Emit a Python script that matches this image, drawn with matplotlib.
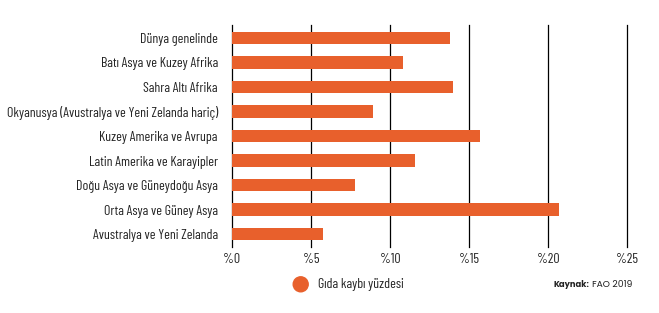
import numpy as np
from matplotlib import pyplot as plt
from matplotlib.patches import Ellipse

# =============================================================================
# data
# =============================================================================
regions = ["Dünya genelinde",
           "Batı Asya ve Kuzey Afrika",
           "Sahra Altı Afrika",
           "Okyanusya (Avustralya ve Yeni Zelanda hariç)",
           "Kuzey Amerika ve Avrupa",
           "Latin Amerika ve Karayipler",
           "Doğu Asya ve Güneydoğu Asya",
           "Orta Asya ve Güney Asya",
           "Avustralya ve Yeni Zelanda"]
loss_pct = [13.8, 10.8, 14.0, 8.9, 15.7, 11.6, 7.8, 20.7, 5.8]
xticks = [0, 5, 10, 15, 20, 25]
xtick_labels = ["%" + str(t) for t in xticks]
legend_label = "Gıda kaybı yüzdesi"
source_head = "Kaynak:"
source_text = "FAO 2019"

orange = "#E8602C"
font = ["Barlow Condensed", "DejaVu Sans"]
src_font = ["Poppins", "DejaVu Sans"]

# =============================================================================
# plot
# =============================================================================
W, H = 659, 313
fig = plt.figure(figsize=(W / 100, H / 100), dpi=100)
ax = fig.add_axes([231.7 / W, 1 - 247 / H, (627.3 - 231.7) / W, (247 - 25) / H])

y = np.arange(len(regions))
ax.barh(y, loss_pct, height=0.51, color=orange, zorder=3)

ax.set_xlim(0, 25)
ax.set_ylim(len(regions) - 0.47, -0.53)
for t in xticks:
    ax.axvline(t, color="black", lw=0.9, zorder=1, clip_on=False)

for s in ax.spines.values():
    s.set_visible(False)
txt = dict(family=font, fontsize=10, color="#222222")
ax.set_yticks(y)
ax.set_yticklabels(regions, **txt)
ax.set_xticks(xticks)
ax.set_xticklabels(xtick_labels, **txt)
ax.tick_params(axis="y", length=0, pad=10)
ax.tick_params(axis="x", length=0, pad=4)

# legend + source
ly = 1 - 284.3 / H
fig.patches.append(Ellipse((300.7 / W, ly), 15 / W, 15 / H, transform=fig.transFigure,
                           color=orange, figure=fig))
fig.text(317.5 / W, ly, legend_label, va="center", ha="left", **txt)
fig.text(553 / W, ly, source_head, family=src_font, fontsize=6,
         weight="bold", color="#222222", va="center", ha="left")
fig.text(592 / W, ly, source_text, family=src_font, fontsize=6.6, weight="normal",
         color="#222222", va="center", ha="left")

plt.savefig("out.png", dpi=100)
